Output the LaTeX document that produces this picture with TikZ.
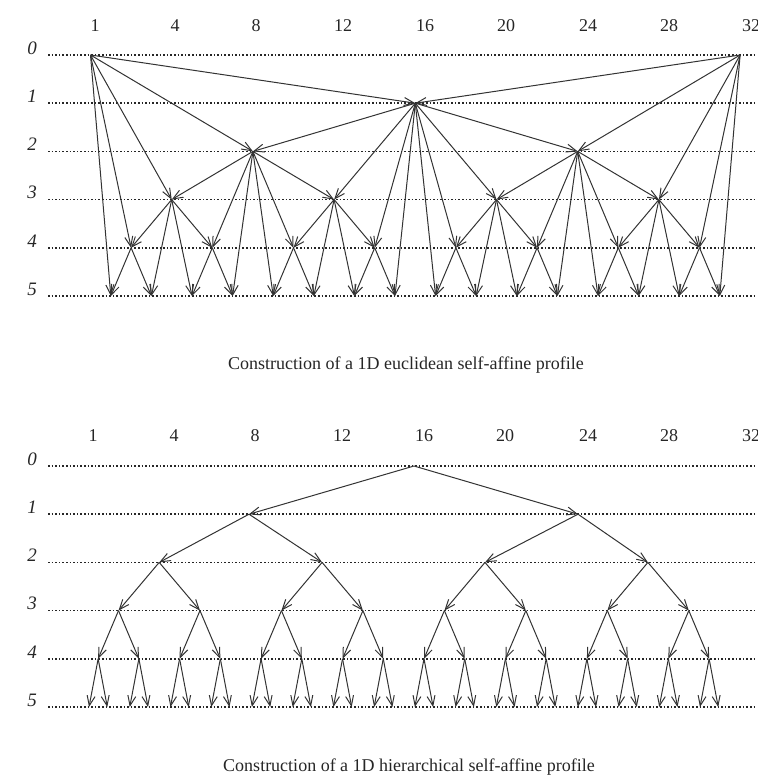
\documentclass[tikz,border=0pt]{standalone}
\usepackage{fontspec}
\setmainfont{Liberation Serif}
\usetikzlibrary{arrows.meta}
\begin{document}
\begin{tikzpicture}[x=1pt,y=-1pt,
  arr/.style={draw=black!80, line width=1pt, -{Straight Barb[length=10pt,width=8pt,line width=1pt]}},
  gridline/.style={draw=black!85, line width=1.6pt, dash pattern=on 1.5pt off 2.1pt},
  rowlab/.style={font=\fontsize{19}{21}\selectfont\itshape, text=black!85, inner sep=0pt},
  collab/.style={font=\fontsize{18}{20}\selectfont, text=black!85, inner sep=0pt},
  captext/.style={font=\fontsize{18}{20}\selectfont, text=black!85, inner sep=0pt}]
\useasboundingbox (0,0) rectangle (757,775);

% ---------- top diagram ----------
\foreach \L in {0,...,5} {
  \draw[gridline] (48,{55+48.2*\L}) -- (757,{55+48.2*\L});
  \node[rowlab] (trow\L) at (32,{48+48.2*\L}) {\L};
}
\foreach \t/\x in {1/95,4/175,8/256,12/343,16/425,20/506,24/588,28/669,32/751}
  \node[collab] (tcol\t) at (\x,26) {\t};

\coordinate (t0) at (90.5,55);
\coordinate (t32) at ({90.5+20.3*32},55);
\coordinate (t16) at ({90.5+20.3*16},{55+48.2});
\foreach \L/\h/\first/\second in {2/8/8/24, 3/4/4/12, 4/2/2/6, 5/1/1/3} {
  \pgfmathtruncatemacro\last{32-\h}
  \foreach \i in {\first,\second,...,\last}
    \coordinate (t\i) at ({90.5+20.3*\i},{55+48.2*\L});
}
\draw[arr] (t0) -- (t16);
\draw[arr] (t32) -- (t16);
\foreach \h/\first/\second in {8/8/24, 4/4/12, 2/2/6, 1/1/3} {
  \pgfmathtruncatemacro\last{32-\h}
  \foreach \i in {\first,\second,...,\last} {
    \pgfmathtruncatemacro\a{\i-\h}
    \pgfmathtruncatemacro\b{\i+\h}
    \draw[arr] (t\a) -- (t\i);
    \draw[arr] (t\b) -- (t\i);
  }
}
\node[captext] (tcap) at (406,365) {Construction of a 1D euclidean self-affine profile};

% ---------- bottom diagram ----------
\foreach \L in {0,...,5} {
  \draw[gridline] (48,{466+48.2*\L}) -- (757,{466+48.2*\L});
  \node[rowlab] (brow\L) at (32,{459+48.2*\L}) {\L};
}
\foreach \t/\x in {1/93,4/174,8/255,12/342,16/424,20/505,24/588,28/669,32/751}
  \node[collab] (bcol\t) at (\x,436) {\t};

\coordinate (b0-0) at (414,466);
\coordinate (b1-0) at (249,{466+48.2});
\coordinate (b1-1) at (578,{466+48.2});
\foreach \j in {0,...,3}
  \coordinate (b2-\j) at ({159.2+162.9*\j},{466+48.2*2});
\foreach \j in {0,...,7}
  \coordinate (b3-\j) at ({118.5+81.47*\j},{466+48.2*3});
\foreach \j in {0,...,15}
  \coordinate (b4-\j) at ({98.15+40.73*\j},{466+48.2*4});
\foreach \j in {0,...,31} {
  \pgfmathsetmacro\xx{89+40.73*floor(\j/2)+18.3*mod(\j,2)}
  \coordinate (b5-\j) at (\xx,{466+48.2*5});
}
\foreach \L/\n in {1/1,2/3,3/7,4/15,5/31} {
  \pgfmathtruncatemacro\P{\L-1}
  \foreach \j in {0,...,\n} {
    \pgfmathtruncatemacro\p{floor(\j/2)}
    \draw[arr] (b\P-\p) -- (b\L-\j);
  }
}
\node[captext] (bcap) at (409,767) {Construction of a 1D hierarchical self-affine profile};
\end{tikzpicture}
\end{document}
